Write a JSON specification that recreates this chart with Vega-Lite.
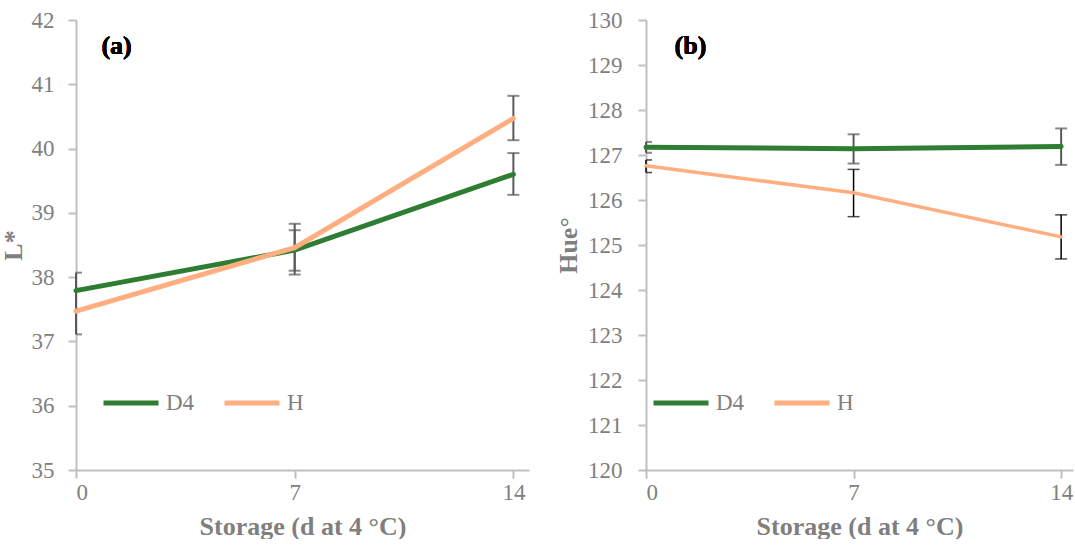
{
  "$schema": "https://vega.github.io/schema/vega-lite/v6.json",
  "padding": {"left": 0, "top": 9, "right": 2, "bottom": 0},
  "background": "white",
  "datasets": {
    "L": [
      {"day": 0, "series": "D4", "value": 37.79, "lo": 37.50, "hi": 38.07},
      {"day": 7, "series": "D4", "value": 38.42, "lo": 38.10, "hi": 38.73},
      {"day": 14, "series": "D4", "value": 39.60, "lo": 39.28, "hi": 39.93},
      {"day": 0, "series": "H", "value": 37.47, "lo": 37.11, "hi": 37.82},
      {"day": 7, "series": "H", "value": 38.46, "lo": 38.04, "hi": 38.83},
      {"day": 14, "series": "H", "value": 40.47, "lo": 40.13, "hi": 40.82}
    ],
    "Hue": [
      {"day": 0, "series": "D4", "value": 127.17, "lo": 127.05, "hi": 127.29},
      {"day": 7, "series": "D4", "value": 127.14, "lo": 126.81, "hi": 127.46},
      {"day": 14, "series": "D4", "value": 127.19, "lo": 126.78, "hi": 127.59},
      {"day": 0, "series": "H", "value": 126.76, "lo": 126.61, "hi": 126.89},
      {"day": 7, "series": "H", "value": 126.16, "lo": 125.63, "hi": 126.68},
      {"day": 14, "series": "H", "value": 125.18, "lo": 124.69, "hi": 125.67}
    ]
  },
  "config": {
    "font": "Liberation Serif",
    "view": {"stroke": null},
    "axis": {
      "grid": false,
      "domainColor": "#BFBFBF", "domainWidth": 2,
      "tickColor": "#BFBFBF", "tickWidth": 2, "tickSize": 8,
      "labelColor": "#808080", "labelFont": "Liberation Serif", "labelFontSize": 23,
      "titleColor": "#7F7F7F", "titleFont": "Liberation Serif", "titleFontSize": 26, "titleFontWeight": "bold"
    },
    "legend": {
      "orient": "none", "direction": "horizontal", "title": null,
      "symbolType": "stroke", "symbolSize": 3025, "symbolStrokeWidth": 5,
      "labelFont": "Liberation Serif", "labelFontSize": 23, "labelColor": "#808080",
      "labelOffset": 5, "columnPadding": 19
    }
  },
  "spacing": 26,
  "resolve": {"scale": {"color": "independent", "y": "independent"}, "legend": {"color": "independent"}},
  "hconcat": [
    {
      "width": 453, "height": 450,
      "data": {"name": "L"},
      "layer": [
        {
          "mark": {"type": "rule", "color": "#595959", "strokeWidth": 2},
          "encoding": {
            "x": {"field": "day", "type": "quantitative"},
            "y": {"field": "lo", "type": "quantitative"},
            "y2": {"field": "hi"}
          }
        },
        {
          "mark": {"type": "tick", "orient": "horizontal", "size": 12, "thickness": 2, "color": "#595959", "clip": true},
          "encoding": {
            "x": {"field": "day", "type": "quantitative"},
            "y": {"field": "lo", "type": "quantitative"}
          }
        },
        {
          "mark": {"type": "tick", "orient": "horizontal", "size": 12, "thickness": 2, "color": "#595959", "clip": true},
          "encoding": {
            "x": {"field": "day", "type": "quantitative"},
            "y": {"field": "hi", "type": "quantitative"}
          }
        },
        {
          "mark": {"type": "line", "strokeWidth": 5, "strokeCap": "round"},
          "encoding": {
            "x": {"field": "day", "type": "quantitative",
                  "scale": {"domain": [0, 14.5], "nice": false, "zero": false},
                  "axis": {"values": [0, 7, 14], "format": "d", "title": "Storage (d at 4 °C)", "labelPadding": 3, "titlePadding": 9}},
            "y": {"field": "value", "type": "quantitative",
                  "scale": {"domain": [35, 42], "nice": false, "zero": false},
                  "axis": {"values": [35, 36, 37, 38, 39, 40, 41, 42], "format": "d", "title": "L*", "labelPadding": 14, "titlePadding": 5}},
            "color": {"field": "series", "type": "nominal",
                      "scale": {"domain": ["D4", "H"], "range": ["#2E7D32", "#FFAE80"]},
                      "legend": {"legendX": 25, "legendY": 353}},
            "order": {"field": "day", "type": "quantitative"}
          }
        },
        {
          "mark": {"type": "text", "text": "(a)", "fontSize": 26, "fontWeight": "bold", "color": "#000000", "font": "Liberation Serif"},
          "encoding": {
            "x": {"datum": 1.3, "type": "quantitative"},
            "y": {"datum": 41.6, "type": "quantitative"}
          }
        }
      ]
    },
    {
      "width": 427, "height": 450,
      "data": {"name": "Hue"},
      "layer": [
        {
          "transform": [{"filter": "datum.series === 'D4'"}],
          "layer": [
            {
              "mark": {"type": "rule", "color": "#595959", "strokeWidth": 2},
              "encoding": {
                "x": {"field": "day", "type": "quantitative"},
                "y": {"field": "lo", "type": "quantitative"},
                "y2": {"field": "hi"}
              }
            },
            {
              "mark": {"type": "tick", "orient": "horizontal", "size": 12, "thickness": 2, "color": "#595959", "clip": true},
              "encoding": {
                "x": {"field": "day", "type": "quantitative"},
                "y": {"field": "lo", "type": "quantitative"}
              }
            },
            {
              "mark": {"type": "tick", "orient": "horizontal", "size": 12, "thickness": 2, "color": "#595959", "clip": true},
              "encoding": {
                "x": {"field": "day", "type": "quantitative"},
                "y": {"field": "hi", "type": "quantitative"}
              }
            }
          ]
        },
        {
          "transform": [{"filter": "datum.series === 'H'"}],
          "layer": [
            {
              "mark": {"type": "rule", "color": "#000000", "strokeWidth": 1.5},
              "encoding": {
                "x": {"field": "day", "type": "quantitative"},
                "y": {"field": "lo", "type": "quantitative"},
                "y2": {"field": "hi"}
              }
            },
            {
              "mark": {"type": "tick", "orient": "horizontal", "size": 12, "thickness": 1.5, "color": "#000000", "clip": true},
              "encoding": {
                "x": {"field": "day", "type": "quantitative"},
                "y": {"field": "lo", "type": "quantitative"}
              }
            },
            {
              "mark": {"type": "tick", "orient": "horizontal", "size": 12, "thickness": 1.5, "color": "#000000", "clip": true},
              "encoding": {
                "x": {"field": "day", "type": "quantitative"},
                "y": {"field": "hi", "type": "quantitative"}
              }
            }
          ]
        },
        {
          "mark": {"type": "line", "strokeCap": "round"},
          "encoding": {
            "x": {"field": "day", "type": "quantitative",
                  "scale": {"domain": [0, 14.4], "nice": false, "zero": false},
                  "axis": {"values": [0, 7, 14], "format": "d", "title": "Storage (d at 4 °C)", "labelPadding": 3, "titlePadding": 9}},
            "y": {"field": "value", "type": "quantitative",
                  "scale": {"domain": [120, 130], "nice": false, "zero": false},
                  "axis": {"values": [120, 121, 122, 123, 124, 125, 126, 127, 128, 129, 130], "format": "d", "title": "Hue°", "labelPadding": 16, "titlePadding": 6}},
            "color": {"field": "series", "type": "nominal",
                      "scale": {"domain": ["D4", "H"], "range": ["#2E7D32", "#FFAE80"]},
                      "legend": {"legendX": 5, "legendY": 353}},
            "strokeWidth": {"field": "series", "type": "nominal",
                            "scale": {"domain": ["D4", "H"], "range": [5, 3.5]},
                            "legend": null},
            "order": {"field": "day", "type": "quantitative"}
          }
        },
        {
          "mark": {"type": "text", "text": "(b)", "fontSize": 26, "fontWeight": "bold", "color": "#000000", "font": "Liberation Serif"},
          "encoding": {
            "x": {"datum": 1.5, "type": "quantitative"},
            "y": {"datum": 129.42, "type": "quantitative"}
          }
        }
      ]
    }
  ]
}
